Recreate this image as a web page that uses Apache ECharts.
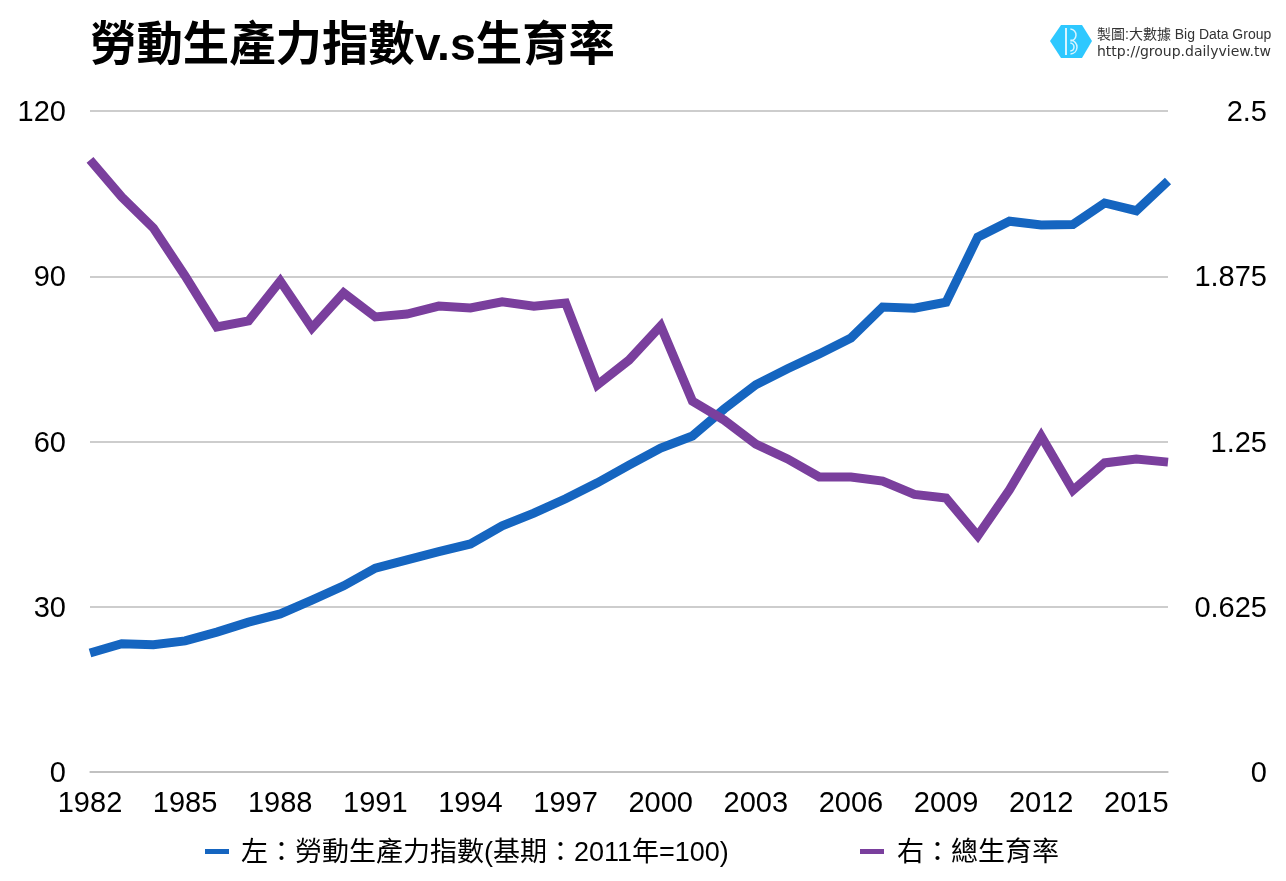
<!DOCTYPE html>
<html><head><meta charset="utf-8">
<style>html,body{margin:0;padding:0;background:#fff}#c{width:1286px;height:881px}</style>
<script src="https://cdn.jsdelivr.net/npm/echarts@6/dist/echarts.min.js"></script>
</head><body><div id="c"></div>
<script>
const titleText = '勞動生產力指數v.s生育率';
const years = [1982,1983,1984,1985,1986,1987,1988,1989,1990,1991,1992,1993,1994,1995,1996,1997,1998,1999,2000,2001,2002,2003,2004,2005,2006,2007,2008,2009,2010,2011,2012,2013,2014,2015,2016];
const productivity = [21.6,23.3,23.1,23.8,25.4,27.2,28.7,31.2,33.8,37,38.5,40,41.4,44.7,47,49.6,52.5,55.7,58.8,61,65.9,70.3,73.2,75.9,78.8,84.4,84.2,85.3,97.1,100,99.3,99.4,103.3,101.9,107.3];
const fertility = [2.315,2.175,2.057,1.876,1.683,1.706,1.857,1.679,1.812,1.721,1.732,1.762,1.755,1.778,1.762,1.774,1.464,1.558,1.687,1.403,1.331,1.24,1.184,1.116,1.116,1.10,1.05,1.036,0.893,1.067,1.27,1.065,1.169,1.184,1.172];
const leftName = '左：勞動生產力指數(基期：2011年=100)';
const rightName = '右：總生育率';
const rightTicks = ['0','0.625','1.25','1.875','2.5'];
const BLUE = '#1565c0', PURPLE = '#7a3f9d';
const latin = '"Liberation Sans","Noto Sans CJK TC",sans-serif';
const tickRich = {t:{fontSize:29,fontFamily:latin,color:'#000',padding:[4,0,0,0]}};
const chart = echarts.init(document.getElementById('c'), null, {renderer:'canvas'});
chart.setOption({
  animation:false,
  backgroundColor:'#fff',
  grid:{left:90,right:118,top:111,bottom:109,containLabel:false},
  xAxis:{type:'category',data:years,boundaryGap:false,
    axisLine:{lineStyle:{color:'#bdbdbd',width:1.5}},axisTick:{show:false},
    axisLabel:{interval:2,color:'#000',fontSize:29,fontFamily:latin,margin:17},splitLine:{show:false}},
  yAxis:[
    {type:'value',min:0,max:120,interval:30,position:'left',
     axisLine:{show:false},axisTick:{show:false},
     axisLabel:{margin:24,rich:tickRich,formatter:(v)=>'{t|'+v+'}'},
     splitLine:{lineStyle:{color:'#bdbdbd',width:1.5}}},
    {type:'value',min:0,max:2.5,interval:0.625,position:'right',
     axisLine:{show:false},axisTick:{show:false},
     axisLabel:{margin:99,align:'right',rich:tickRich,
       formatter:(v)=>'{t|'+rightTicks[Math.round(v/0.625)]+'}'},
     splitLine:{show:false}}
  ],
  legend:{show:false},
  series:[
    {name:leftName,type:'line',yAxisIndex:0,data:productivity,showSymbol:false,symbol:'none',
     lineStyle:{color:BLUE,width:9,join:'miter'},itemStyle:{color:BLUE},z:2},
    {name:rightName,type:'line',yAxisIndex:1,data:fertility,showSymbol:false,symbol:'none',
     lineStyle:{color:PURPLE,width:9,join:'miter'},itemStyle:{color:PURPLE},z:3}
  ],
  graphic:[
    {type:'text',left:90,top:24,style:{text:titleText,fontSize:46.4,fontWeight:'bold',fill:'#000',fontFamily:latin}},
    {type:'rect',shape:{x:205,y:849,width:24,height:5},style:{fill:BLUE}},
    {type:'text',left:241,top:840,style:{text:leftName,fontSize:27,fill:'#000',fontFamily:latin}},
    {type:'rect',shape:{x:860,y:849,width:24,height:5},style:{fill:PURPLE}},
    {type:'text',left:897,top:840,style:{text:rightName,fontSize:27,fill:'#000',fontFamily:latin}},
    {type:'polygon',shape:{points:[[1050,41],[1061,25],[1082,25],[1092,41],[1082,58],[1061,58]]},style:{fill:'#2ec8ff'}},
    {type:'line',shape:{x1:1066,y1:28,x2:1066,y2:55},style:{stroke:'#d8f4ff',lineWidth:2}},
    {type:'arc',shape:{cx:1070,cy:35,r:6,startAngle:-1.5,endAngle:1.5},style:{fill:'none',stroke:'#d8f4ff',lineWidth:1.5}},
    {type:'arc',shape:{cx:1070,cy:47,r:7,startAngle:-1.5,endAngle:1.5},style:{fill:'none',stroke:'#d8f4ff',lineWidth:1.5}},
    {type:'arc',shape:{cx:1070,cy:47,r:4,startAngle:-1.5,endAngle:1.5},style:{fill:'none',stroke:'#d8f4ff',lineWidth:1.5}},
    {type:'text',left:1097,top:28,style:{text:'製圖:大數據 Big Data Group',fontSize:14,fill:'#333',fontFamily:latin}},
    {type:'text',left:1097,top:45,style:{text:'http://group.dailyview.tw',fontSize:14,fill:'#333',fontFamily:'"DejaVu Sans",sans-serif'}}
  ]
});
</script></body></html>
